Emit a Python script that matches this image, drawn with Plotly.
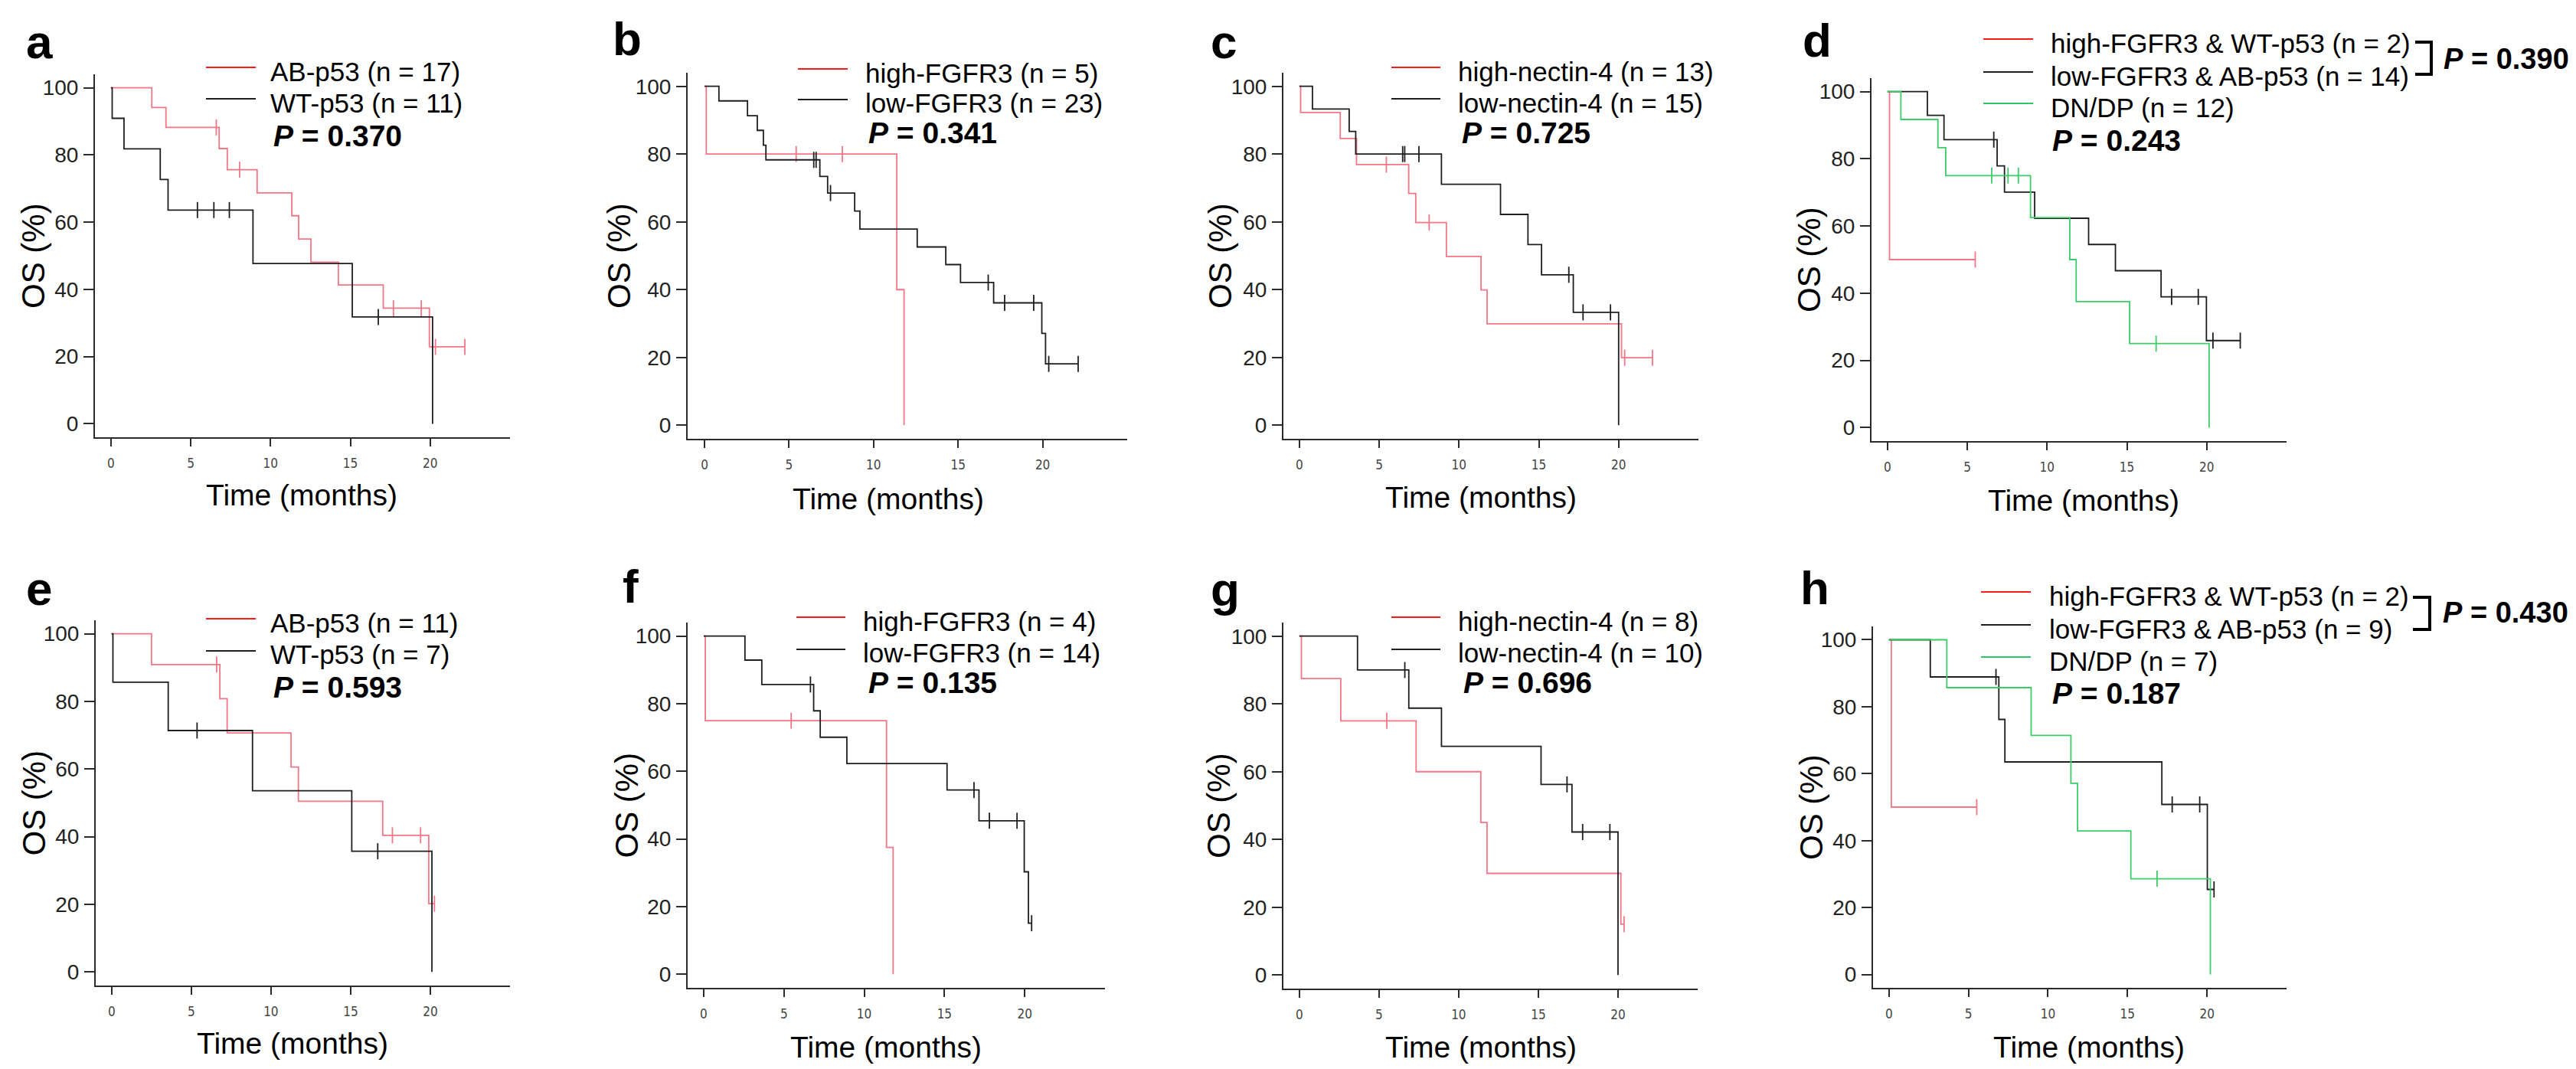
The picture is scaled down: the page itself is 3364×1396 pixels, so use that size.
import plotly.graph_objects as go

W, H = 3364, 1396

# ------------------------------------------------------------------ data
# each curve: event times (months), survival after each event (%), censor times
# panel a
a_ab_t = [2.56, 3.45, 6.78, 7.29, 9.16, 11.33, 11.76, 12.53, 14.25, 17.06, 19.95]
a_ab_s = [94.1, 88.2, 81.9, 75.6, 68.7, 61.9, 55.0, 48.1, 41.3, 34.4, 22.9]
a_ab_c = [6.6, 8.06, 17.7, 19.44, 20.33, 22.17]
a_wt_t = [0.08, 0.82, 3.09, 3.58, 8.9, 15.12, 20.15]
a_wt_s = [90.9, 81.8, 72.7, 63.6, 47.7, 31.8, 0.0]
a_wt_c = [5.42, 6.45, 7.42, 16.75]
# panel b
b_hi_t = [0.1, 11.37, 11.8]
b_hi_s = [80.0, 40.0, 0.0]
b_hi_c = [5.42, 8.15]
b_lo_t = [0.85, 2.54, 3.12, 3.48, 3.63, 6.82, 7.28, 8.88, 9.19, 12.58, 14.27, 15.14, 17.1, 19.95, 20.17]
b_lo_s = [95.7, 91.3, 87.0, 82.6, 78.3, 73.4, 68.5, 63.2, 57.9, 52.6, 47.4, 42.1, 36.1, 27.1, 18.1]
b_lo_c = [6.46, 6.6, 7.45, 16.78, 17.75, 19.47, 20.36, 22.1]
# panel c
c_hi_t = [0.08, 2.56, 3.58, 6.85, 7.29, 9.21, 11.38, 11.76, 20.18]
c_hi_s = [92.3, 84.6, 76.9, 68.4, 59.8, 49.8, 39.9, 29.9, 19.9]
c_hi_c = [5.45, 8.13, 20.38, 22.12]
c_lo_t = [0.82, 3.12, 3.53, 8.9, 12.6, 14.32, 15.17, 17.16, 20.0]
c_lo_s = [93.3, 86.7, 80.0, 71.1, 62.2, 53.3, 44.4, 33.3, 0.0]
c_lo_c = [6.47, 6.6, 7.49, 16.88, 17.77, 19.49]
# panel d
d_hw_t = [0.13]
d_hw_s = [50.0]
d_hw_c = [5.5]
d_la_t = [2.5, 3.54, 6.87, 7.33, 9.22, 12.6, 14.28, 17.14, 19.98]
d_la_s = [92.9, 85.7, 77.9, 70.1, 62.3, 54.5, 46.7, 38.9, 25.9]
d_la_c = [6.66, 17.8, 19.47, 20.39, 22.1]
d_dn_t = [0.84, 3.16, 3.65, 8.96, 11.42, 11.82, 15.17, 20.15]
d_dn_s = [91.7, 83.3, 75.0, 62.5, 50.0, 37.5, 25.0, 0.0]
d_dn_c = [6.53, 7.55, 8.2, 16.83]
# panel e
e_ab_t = [2.5, 6.79, 7.25, 11.26, 11.72, 17.01, 19.9]
e_ab_s = [90.9, 80.8, 70.7, 60.6, 50.5, 40.4, 20.2]
e_ab_c = [6.59, 17.62, 19.39, 20.26]
e_wt_t = [0.08, 3.55, 8.84, 15.07, 20.1]
e_wt_s = [85.7, 71.4, 53.6, 35.7, 0.0]
e_wt_c = [5.36, 16.7]
# panel f
f_hi_t = [0.1, 11.39, 11.8]
f_hi_s = [75.0, 37.5, 0.0]
f_hi_c = [5.45]
f_lo_t = [2.57, 3.62, 6.85, 7.26, 8.92, 15.16, 17.15, 19.97, 20.23]
f_lo_s = [92.9, 85.7, 77.9, 70.1, 62.3, 54.5, 45.4, 30.3, 15.1]
f_lo_c = [6.65, 16.84, 17.8, 19.52, 20.43]
# panel g
g_hi_t = [0.13, 2.6, 7.33, 11.39, 11.78, 20.18]
g_hi_s = [87.5, 75.0, 60.0, 45.0, 30.0, 15.0]
g_hi_c = [5.49, 20.38]
g_lo_t = [3.65, 6.87, 8.92, 15.17, 17.11, 20.0]
g_lo_s = [90.0, 78.75, 67.5, 56.25, 42.2, 0.0]
g_lo_c = [6.62, 16.8, 17.78, 19.49]
# panel h
h_hw_t = [0.15]
h_hw_s = [50.0]
h_hw_c = [5.52]
h_la_t = [2.6, 6.91, 7.29, 17.16, 20.02]
h_la_s = [88.9, 76.2, 63.5, 50.8, 25.4]
h_la_c = [6.73, 17.81, 19.54, 20.44]
h_dn_t = [3.64, 8.94, 11.44, 11.86, 15.21, 20.21]
h_dn_s = [85.7, 71.4, 57.1, 42.9, 28.6, 0.0]
h_dn_c = [16.86]

# text
panel_letters = ["a", "b", "c", "d", "e", "f", "g", "h"]
legend_names = [
    ["AB-p53 (n = 17)", "WT-p53 (n = 11)"],
    ["high-FGFR3 (n = 5)", "low-FGFR3 (n = 23)"],
    ["high-nectin-4 (n = 13)", "low-nectin-4 (n = 15)"],
    ["high-FGFR3 & WT-p53 (n = 2)", "low-FGFR3 & AB-p53 (n = 14)", "DN/DP (n = 12)"],
    ["AB-p53 (n = 11)", "WT-p53 (n = 7)"],
    ["high-FGFR3 (n = 4)", "low-FGFR3 (n = 14)"],
    ["high-nectin-4 (n = 8)", "low-nectin-4 (n = 10)"],
    ["high-FGFR3 & WT-p53 (n = 2)", "low-FGFR3 & AB-p53 (n = 9)", "DN/DP (n = 7)"],
]
p_values = ["0.370", "0.341", "0.725", "0.243", "0.593", "0.135", "0.696", "0.187"]
bracket_p = {3: "0.390", 7: "0.430"}
x_ticks = [0, 5, 10, 15, 20]
y_ticks = [0, 20, 40, 60, 80, 100]
x_title = "Time (months)"
y_title = "OS (%)"

curves = [
    [(a_ab_t, a_ab_s, a_ab_c), (a_wt_t, a_wt_s, a_wt_c)],
    [(b_hi_t, b_hi_s, b_hi_c), (b_lo_t, b_lo_s, b_lo_c)],
    [(c_hi_t, c_hi_s, c_hi_c), (c_lo_t, c_lo_s, c_lo_c)],
    [(d_hw_t, d_hw_s, d_hw_c), (d_la_t, d_la_s, d_la_c), (d_dn_t, d_dn_s, d_dn_c)],
    [(e_ab_t, e_ab_s, e_ab_c), (e_wt_t, e_wt_s, e_wt_c)],
    [(f_hi_t, f_hi_s, f_hi_c), (f_lo_t, f_lo_s, f_lo_c)],
    [(g_hi_t, g_hi_s, g_hi_c), (g_lo_t, g_lo_s, g_lo_c)],
    [(h_hw_t, h_hw_s, h_hw_c), (h_la_t, h_la_s, h_la_c), (h_dn_t, h_dn_s, h_dn_c)],
]

# ------------------------------------------------------------------ layout / style
CURVE_COLORS = ["#f47687", "#1e1e1e", "#3ccd68"]
LEGEND_COLORS = ["#ff1a1a", "#1e1e1e", "#2cc66a"]
FONT = "Liberation Sans, Arial, sans-serif"
NARROW = "Liberation Sans Narrow, Arial Narrow, DejaVu Sans Condensed, sans-serif"

# axes boxes in px: left, right, top, bottom
boxes = [
    (116, 658, 89, 563), (890, 1464, 87, 565), (1668, 2210, 87, 565), (2436, 2978, 94, 568),
    (117, 658, 802, 1279), (890, 1435, 805, 1282), (1668, 2209, 805, 1283), (2438, 2978, 810, 1282),
]
letter_pos = [(24, 46), (790, 43), (1571, 46), (2344, 44), (24, 760), (803, 757), (1571, 761), (2341, 759)]
ytitle_x = [36, 801, 1586, 2354, 36, 810, 1583, 2357]
xtitle_pos = [(386, 638), (1152, 643), (1926, 641), (2713, 645),
              (374, 1354), (1149, 1359), (1926, 1359), (2720, 1359)]
# legend: line x0, x1, text x, row line y's, P x, P y
legend_pos = [
    (261, 326, 343, [80, 121], 347, 170),
    (1034, 1099, 1120, [82, 122], 1124, 166),
    (1809, 1873, 1894, [80, 121], 1899, 166),
    (2582, 2647, 2668, [43, 86, 127], 2670, 175),
    (261, 326, 343, [800, 842], 347, 890),
    (1032, 1096, 1117, [798, 840], 1124, 884),
    (1809, 1873, 1894, [798, 840], 1901, 884),
    (2579, 2644, 2666, [765, 808, 850], 2670, 897),
]
bracket_pos = {3: (3146, 3167, 47, 89, 3181, 69), 7: (3143, 3165, 772, 814, 3180, 792)}


def fx(x):
    return x / W


def fy(y):
    return 1 - y / H


def step_value(times, surv, t):
    v = 100.0
    for ti, si in zip(times, surv):
        if ti <= t:
            v = si
    return v


fig = go.Figure()
annotations = []
shapes = []
layout_axes = {}

for i, panel in enumerate(curves):
    n = i + 1
    xa = "x" if n == 1 else f"x{n}"
    ya = "y" if n == 1 else f"y{n}"
    for k in range(len(panel)):
        times, surv, cens = panel[k]
        xs = [0.0] + list(times)
        ys = [100.0] + list(surv)
        if cens and max(cens) > xs[-1]:
            xs.append(max(cens))
            ys.append(ys[-1])
        col = CURVE_COLORS[k]
        fig.add_trace(go.Scatter(
            x=xs, y=ys, mode="lines", line=dict(shape="hv", color=col, width=1.8),
            xaxis=xa, yaxis=ya, showlegend=False, hoverinfo="skip"))
        fig.add_trace(go.Scatter(
            x=list(cens), y=[step_value(times, surv, c) for c in cens], mode="markers",
            marker=dict(symbol="line-ns-open", size=15, color=col, line=dict(color=col, width=1.8)),
            xaxis=xa, yaxis=ya, showlegend=False, hoverinfo="skip"))

    l, r, t, b = boxes[i]
    axis_common = dict(showline=True, linecolor="#2b2b2b", linewidth=2, ticks="outside",
                       tickcolor="#2b2b2b", tickwidth=2, showgrid=False, zeroline=False)
    layout_axes["xaxis" if n == 1 else f"xaxis{n}"] = dict(
        domain=[fx(l), fx(r)], anchor=ya, range=[-1, 25], tickvals=x_ticks, ticklen=10,
        tickfont=dict(family=NARROW, size=17, color="#444444"), ticklabelstandoff=8, **axis_common)
    layout_axes["yaxis" if n == 1 else f"yaxis{n}"] = dict(
        domain=[fy(b), fy(t)], anchor=xa, range=[-4, 104], tickvals=y_ticks, ticklen=13,
        tickfont=dict(family=FONT, size=28, color="#222222"), ticklabelstandoff=1, **axis_common)

    # panel letter
    lx, lyy = letter_pos[i]
    annotations.append(dict(text=f"<b>{panel_letters[i]}</b>", x=fx(lx), y=fy(lyy), xref="paper", yref="paper",
                            xanchor="left", yanchor="middle", showarrow=False,
                            font=dict(family=FONT, size=62, color="black")))
    # axis titles
    annotations.append(dict(text=y_title, x=fx(ytitle_x[i]), y=fy((t + b) / 2), xref="paper", yref="paper",
                            xanchor="center", yanchor="middle", textangle=-90, showarrow=False,
                            font=dict(family=FONT, size=42, color="black")))
    tx, ty = xtitle_pos[i]
    annotations.append(dict(text=x_title, x=fx(tx), y=fy(ty), xref="paper", yref="paper",
                            xanchor="center", yanchor="middle", showarrow=False,
                            font=dict(family=FONT, size=39, color="black")))
    # legend
    x0, x1, txx, rows, pxx, pyy = legend_pos[i]
    for k, name in enumerate(legend_names[i]):
        shapes.append(dict(type="line", xref="paper", yref="paper", x0=fx(x0), x1=fx(x1),
                           y0=fy(rows[k]), y1=fy(rows[k]), line=dict(color=LEGEND_COLORS[k], width=2)))
        annotations.append(dict(text=name, x=fx(txx), y=fy(rows[k] + 5), xref="paper", yref="paper",
                                xanchor="left", yanchor="middle", showarrow=False,
                                font=dict(family=FONT, size=35, color="black")))
    annotations.append(dict(text=f"<b><i>P</i> = {p_values[i]}</b>", x=fx(pxx), y=fy(pyy), xref="paper",
                            yref="paper", xanchor="left", yanchor="middle", showarrow=False,
                            font=dict(family=FONT, size=39, color="black")))
    if i in bracket_p:
        bx0, bx1, by0, by1, bpx, bpy = bracket_pos[i]
        shapes.append(dict(type="path", xref="paper", yref="paper",
                           path=f"M {fx(bx0)},{fy(by0)} L {fx(bx1)},{fy(by0)} L {fx(bx1)},{fy(by1)} L {fx(bx0)},{fy(by1)}",
                           line=dict(color="black", width=4)))
        annotations.append(dict(text=f"<b><i>P</i> = {bracket_p[i]}</b>", x=fx(bpx), y=fy(bpy), xref="paper",
                                yref="paper", xanchor="left", yanchor="middle", showarrow=False,
                                font=dict(family=FONT, size=38, color="black")))

fig.update_layout(
    width=W, height=H, margin=dict(l=0, r=0, t=0, b=0),
    paper_bgcolor="white", plot_bgcolor="white", showlegend=False,
    annotations=annotations, shapes=shapes, **layout_axes)

fig.write_html("out.html")
